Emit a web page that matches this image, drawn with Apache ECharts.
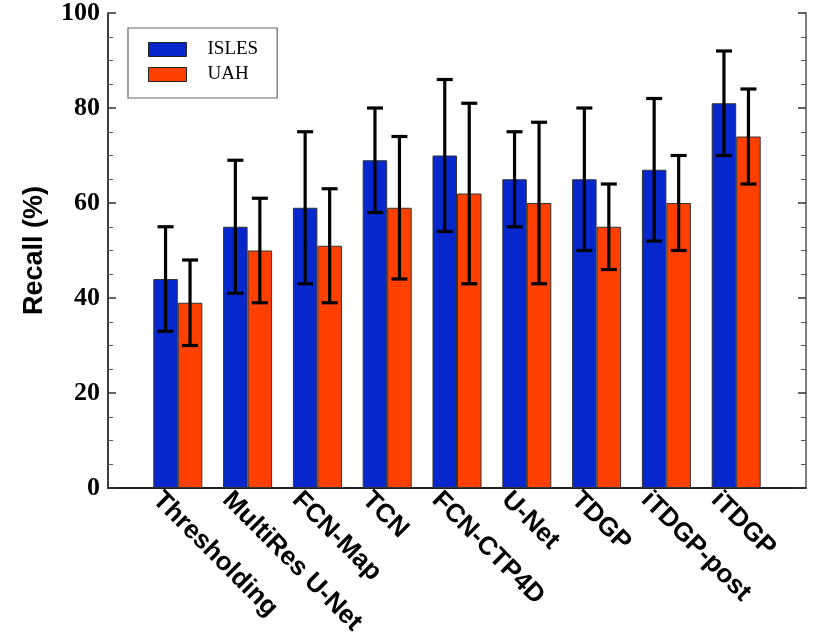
<!DOCTYPE html>
<html lang="en">
<head>
    <meta charset="utf-8">
    <title>Recall</title>
    <script src="https://cdn.jsdelivr.net/npm/echarts@6/dist/echarts.min.js"></script>
    <style>
        html, body { margin: 0; padding: 0; background: #fff; }
        #main { width: 830px; height: 638px; }
    </style>
</head>
<body>
<div id="main"></div>
<script type="text/javascript">
    var methods = ['Thresholding', 'MultiRes U-Net', 'FCN-Map', 'TCN', 'FCN-CTP4D', 'U-Net', 'TDGP', 'iTDGP-post', 'iTDGP'];
    var isles = [44, 55, 59, 69, 70, 65, 65, 67, 81];
    var islesLow = [33, 41, 43, 58, 54, 55, 50, 52, 70];
    var islesHigh = [55, 69, 75, 80, 86, 75, 80, 82, 92];
    var uah = [39, 50, 51, 59, 62, 60, 55, 60, 74];
    var uahLow = [30, 39, 39, 44, 43, 43, 46, 50, 64];
    var uahHigh = [48, 61, 63, 74, 81, 77, 64, 70, 84];
    var yTicks = [0, 20, 40, 60, 80, 100];

    // empty slot at each end so the groups sit one step in from the frame
    var cats = [''].concat(methods, ['']);
    function pad(arr) { return ['-'].concat(arr, ['-']); }
    function errData(lo, hi) {
        var out = [];
        for (var i = 0; i < lo.length; i++) out.push([i + 1, lo[i], hi[i]]);
        return out;
    }

    var barW = 24.5;
    function errRender(offset) {
        return function (params, api) {
            var x = api.coord([api.value(0), 0])[0] + offset;
            var yLo = api.coord([api.value(0), api.value(1)])[1];
            var yHi = api.coord([api.value(0), api.value(2)])[1];
            var st = { stroke: '#000', lineWidth: 3.2 };
            return {
                type: 'group',
                children: [
                    { type: 'line', shape: { x1: x, y1: yLo, x2: x, y2: yHi }, style: st },
                    { type: 'line', shape: { x1: x - 8, y1: yHi, x2: x + 8, y2: yHi }, style: st },
                    { type: 'line', shape: { x1: x - 8, y1: yLo, x2: x + 8, y2: yLo }, style: st }
                ]
            };
        };
    }

    var myChart = echarts.init(document.getElementById('main'));
    var option = {
        animation: false,
        backgroundColor: '#fff',
        grid: [
            { left: 108, top: 7, width: 698, height: 481 },
            { left: 87, top: 7, width: 698, height: 481 }
        ],
        legend: {
            orient: 'vertical',
            left: 128,
            top: 28,
            padding: [12, 19, 14, 20],
            borderColor: '#666',
            borderWidth: 1.2,
            itemWidth: 38,
            itemHeight: 14,
            itemGap: 6,
            textStyle: { fontFamily: 'Liberation Serif', fontSize: 19, color: '#000', padding: [0, 0, 0, 16] },
            data: [
                { name: 'ISLES', icon: 'rect', itemStyle: { borderColor: '#222', borderWidth: 1 } },
                { name: 'UAH', icon: 'rect', itemStyle: { borderColor: '#222', borderWidth: 1 } }
            ]
        },
        xAxis: [
            {
                type: 'category', gridIndex: 0, data: cats, boundaryGap: false,
                axisLine: { lineStyle: { color: '#808080', width: 2 } },
                axisTick: { show: false }, axisLabel: { show: false }, splitLine: { show: false }
            },
            {
                type: 'category', gridIndex: 0, position: 'top', data: cats, boundaryGap: false,
                axisLine: { lineStyle: { color: '#000', width: 1.5 } },
                axisTick: { show: false }, axisLabel: { show: false }, splitLine: { show: false }
            },
            {
                type: 'category', gridIndex: 1, data: cats, boundaryGap: false,
                axisLine: { show: false }, axisTick: { show: false }, splitLine: { show: false },
                axisLabel: {
                    interval: 0, rotate: -45, margin: 13,
                    fontFamily: 'Liberation Sans', fontWeight: 'bold', fontSize: 26, color: '#000'
                }
            }
        ],
        yAxis: [
            {
                type: 'value', gridIndex: 0, min: 0, max: 100, interval: 20,
                name: 'Recall (%)', nameLocation: 'middle', nameGap: 60,
                nameTextStyle: { fontFamily: 'Liberation Sans', fontWeight: 'bold', fontSize: 27, color: '#000' },
                axisLine: { show: true, lineStyle: { color: '#000', width: 1.5 } },
                axisTick: { show: true, inside: true, length: 8, lineStyle: { color: '#333', width: 1.5 } },
                minorTick: { show: true, splitNumber: 4, length: 5, lineStyle: { color: '#555', width: 1 } },
                splitLine: { show: false },
                axisLabel: {
                    margin: 8, fontFamily: 'Liberation Serif', fontWeight: 'bold', fontSize: 26, color: '#000',
                    formatter: function (v) { return yTicks.indexOf(v) >= 0 ? String(v) : ''; }
                }
            },
            {
                type: 'value', gridIndex: 0, position: 'right', min: 0, max: 100, interval: 20,
                axisLine: { show: true, lineStyle: { color: '#808080', width: 2 } },
                axisTick: { show: true, inside: true, length: 8, lineStyle: { color: '#333', width: 1.5 } },
                minorTick: { show: true, splitNumber: 4, length: 5, lineStyle: { color: '#555', width: 1 } },
                splitLine: { show: false }, axisLabel: { show: false }
            },
            {
                type: 'value', gridIndex: 1, min: 0, max: 100, show: false
            }
        ],
        series: [
            {
                name: 'ISLES', type: 'bar', xAxisIndex: 0, yAxisIndex: 0,
                barWidth: barW, barGap: '0%',
                itemStyle: { color: '#0527CC', borderColor: '#333', borderWidth: 1 },
                data: pad(isles)
            },
            {
                name: 'UAH', type: 'bar', xAxisIndex: 0, yAxisIndex: 0,
                barWidth: barW, barGap: '0%',
                itemStyle: { color: '#FF4000', borderColor: '#333', borderWidth: 1 },
                data: pad(uah)
            },
            {
                name: 'ISLES err', type: 'custom', xAxisIndex: 0, yAxisIndex: 0, z: 5,
                renderItem: errRender(-barW / 2),
                data: errData(islesLow, islesHigh)
            },
            {
                name: 'UAH err', type: 'custom', xAxisIndex: 0, yAxisIndex: 0, z: 5,
                renderItem: errRender(barW / 2),
                data: errData(uahLow, uahHigh)
            }
        ]
    };
    myChart.setOption(option);
</script>
</body>
</html>
